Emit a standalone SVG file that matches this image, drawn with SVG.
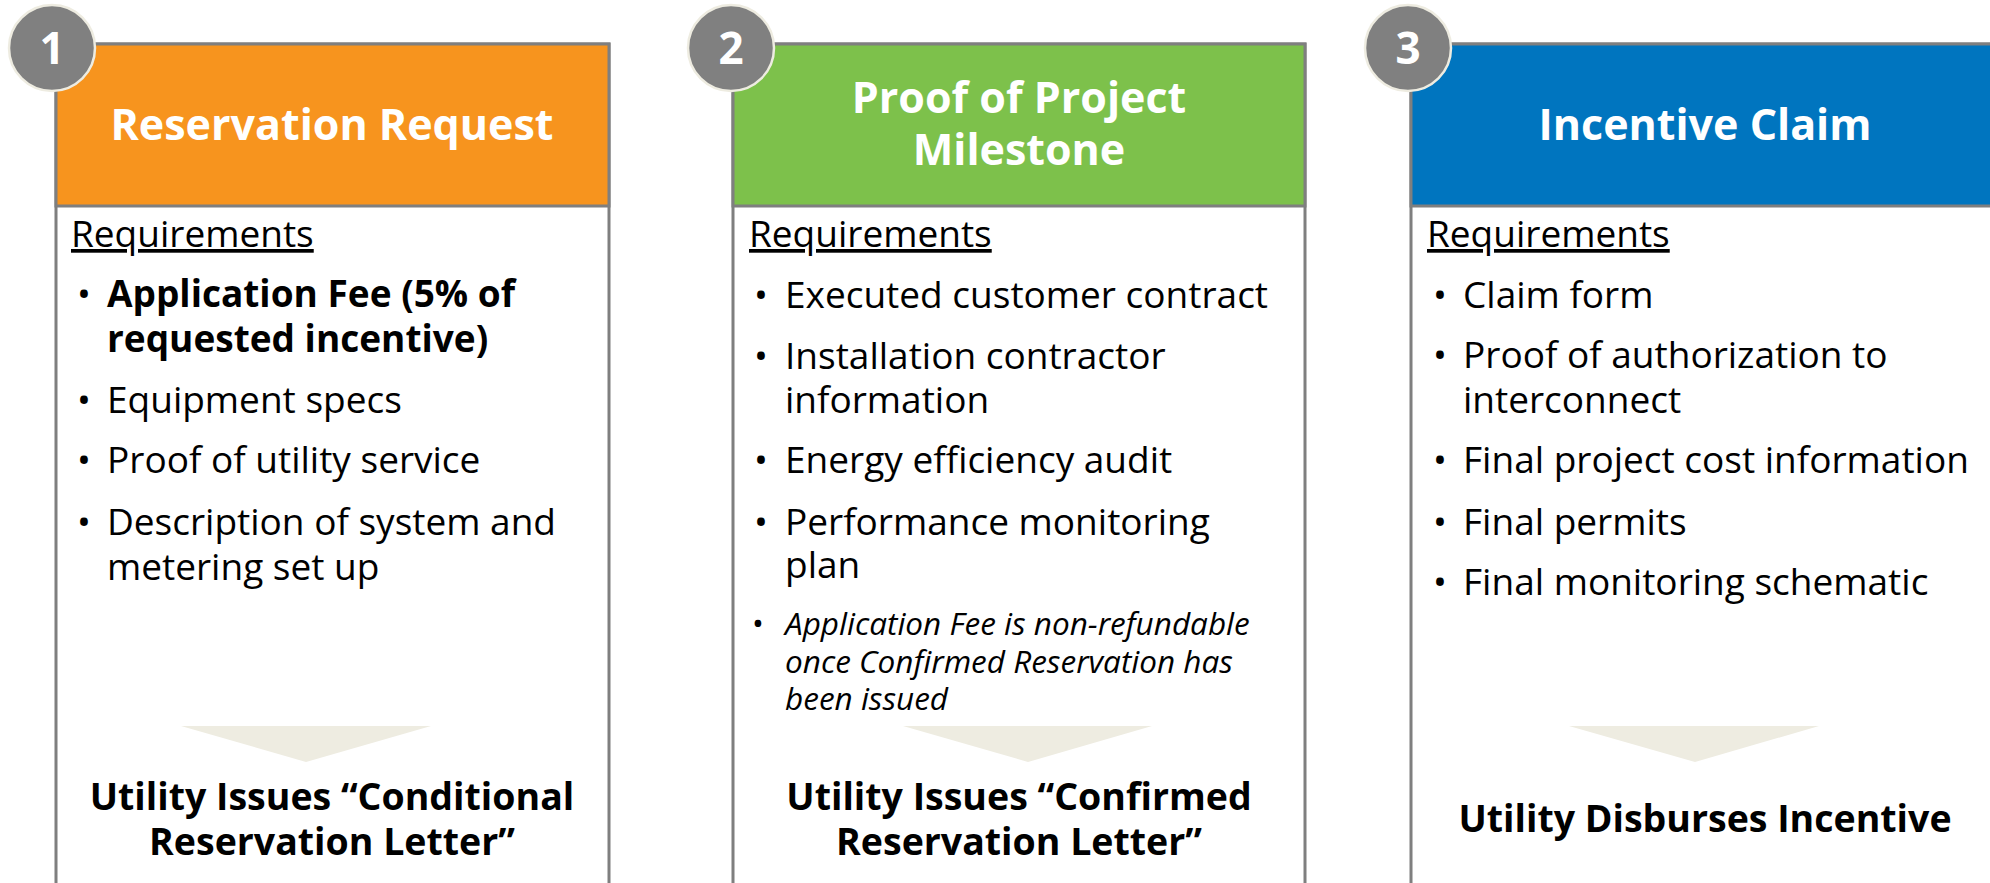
<svg xmlns="http://www.w3.org/2000/svg" width="1990" height="883" viewBox="0 0 1990 883">
<defs>
<style>
.box{fill:#ffffff;stroke:#7f7f7f;stroke-width:3}
.hdr{stroke:#7f7f7f;stroke-width:3}
.num{fill:#808080;stroke:#eeece1;stroke-width:2.5}
.numt{font-family:"Open Sans","Noto Sans",sans-serif;font-weight:700;font-size:44px;fill:#ffffff;text-anchor:middle}
.title{font-family:"Open Sans","Noto Sans",sans-serif;font-weight:700;font-size:43px;fill:#ffffff;text-anchor:middle}
.req{font-family:"Open Sans","Noto Sans",sans-serif;font-size:37px;fill:#000000;text-decoration:underline}
.item{font-family:"Open Sans","Noto Sans",sans-serif;font-size:37px;fill:#000000}
.bold{font-weight:700}
.note{font-family:"Open Sans","Noto Sans",sans-serif;font-size:31.5px;font-style:italic;fill:#000000}
.out{font-family:"Open Sans","Noto Sans",sans-serif;font-weight:700;font-size:37.5px;fill:#000000;text-anchor:middle}
.tri{fill:#eeece1}
</style>
</defs>
<rect width="1990" height="883" fill="#ffffff"/>

<g id="step1">
<rect class="box" x="56" y="44" width="553" height="860"/>
<rect class="hdr" x="56" y="44" width="553" height="162" fill="#f7941e"/>
<text class="title" x="332" y="140">Reservation Request</text>
<text class="req" x="71" y="247">Requirements</text>
<text class="item" x="77" y="307">•</text>
<text class="item bold" x="107" y="307">Application Fee (5% of</text>
<text class="item bold" x="107" y="352">requested incentive)</text>
<text class="item" x="77" y="413">•</text>
<text class="item" x="107" y="413">Equipment specs</text>
<text class="item" x="77" y="473">•</text>
<text class="item" x="107" y="473">Proof of utility service</text>
<text class="item" x="77" y="535">•</text>
<text class="item" x="107" y="535">Description of system and</text>
<text class="item" x="107" y="580">metering set up</text>
<polygon class="tri" points="181,726 431,726 306,762"/>
<text class="out" x="332" y="810">Utility Issues “Conditional</text>
<text class="out" x="332" y="855">Reservation Letter”</text>
<circle class="num" cx="52" cy="48" r="43"/>
<text class="numt" x="52" y="64">1</text>
</g>

<g id="step2">
<rect class="box" x="733" y="44" width="572" height="860"/>
<rect class="hdr" x="733" y="44" width="572" height="162" fill="#7dc14b"/>
<text class="title" x="1019" y="113">Proof of Project</text>
<text class="title" x="1019" y="165">Milestone</text>
<text class="req" x="749" y="247">Requirements</text>
<text class="item" x="754" y="308">•</text>
<text class="item" x="785" y="308">Executed customer contract</text>
<text class="item" x="754" y="369">•</text>
<text class="item" x="785" y="369">Installation contractor</text>
<text class="item" x="785" y="413">information</text>
<text class="item" x="754" y="473">•</text>
<text class="item" x="785" y="473">Energy efficiency audit</text>
<text class="item" x="754" y="535">•</text>
<text class="item" x="785" y="535">Performance monitoring</text>
<text class="item" x="785" y="578">plan</text>
<text class="note" x="752" y="635" style="font-style:normal">•</text>
<text class="note" x="785" y="635">Application Fee is non-refundable</text>
<text class="note" x="785" y="673">once Confirmed Reservation has</text>
<text class="note" x="785" y="710">been issued</text>
<polygon class="tri" points="903,726 1152,726 1028,762"/>
<text class="out" x="1019" y="810">Utility Issues “Confirmed</text>
<text class="out" x="1019" y="855">Reservation Letter”</text>
<circle class="num" cx="731" cy="48" r="43"/>
<text class="numt" x="731" y="64">2</text>
</g>

<g id="step3">
<rect class="box" x="1411" y="44" width="594" height="860"/>
<rect class="hdr" x="1411" y="44" width="594" height="162" fill="#0075bf"/>
<text class="title" x="1705" y="140">Incentive Claim</text>
<text class="req" x="1427" y="247">Requirements</text>
<text class="item" x="1433" y="308">•</text>
<text class="item" x="1463" y="308">Claim form</text>
<text class="item" x="1433" y="368">•</text>
<text class="item" x="1463" y="368">Proof of authorization to</text>
<text class="item" x="1463" y="413">interconnect</text>
<text class="item" x="1433" y="473">•</text>
<text class="item" x="1463" y="473">Final project cost information</text>
<text class="item" x="1433" y="535">•</text>
<text class="item" x="1463" y="535">Final permits</text>
<text class="item" x="1433" y="595">•</text>
<text class="item" x="1463" y="595">Final monitoring schematic</text>
<polygon class="tri" points="1569,726 1819,726 1695,762"/>
<text class="out" x="1705" y="832">Utility Disburses Incentive</text>
<circle class="num" cx="1408" cy="48" r="43"/>
<text class="numt" x="1408" y="64">3</text>
</g>

<g id="connectors"></g>
</svg>
